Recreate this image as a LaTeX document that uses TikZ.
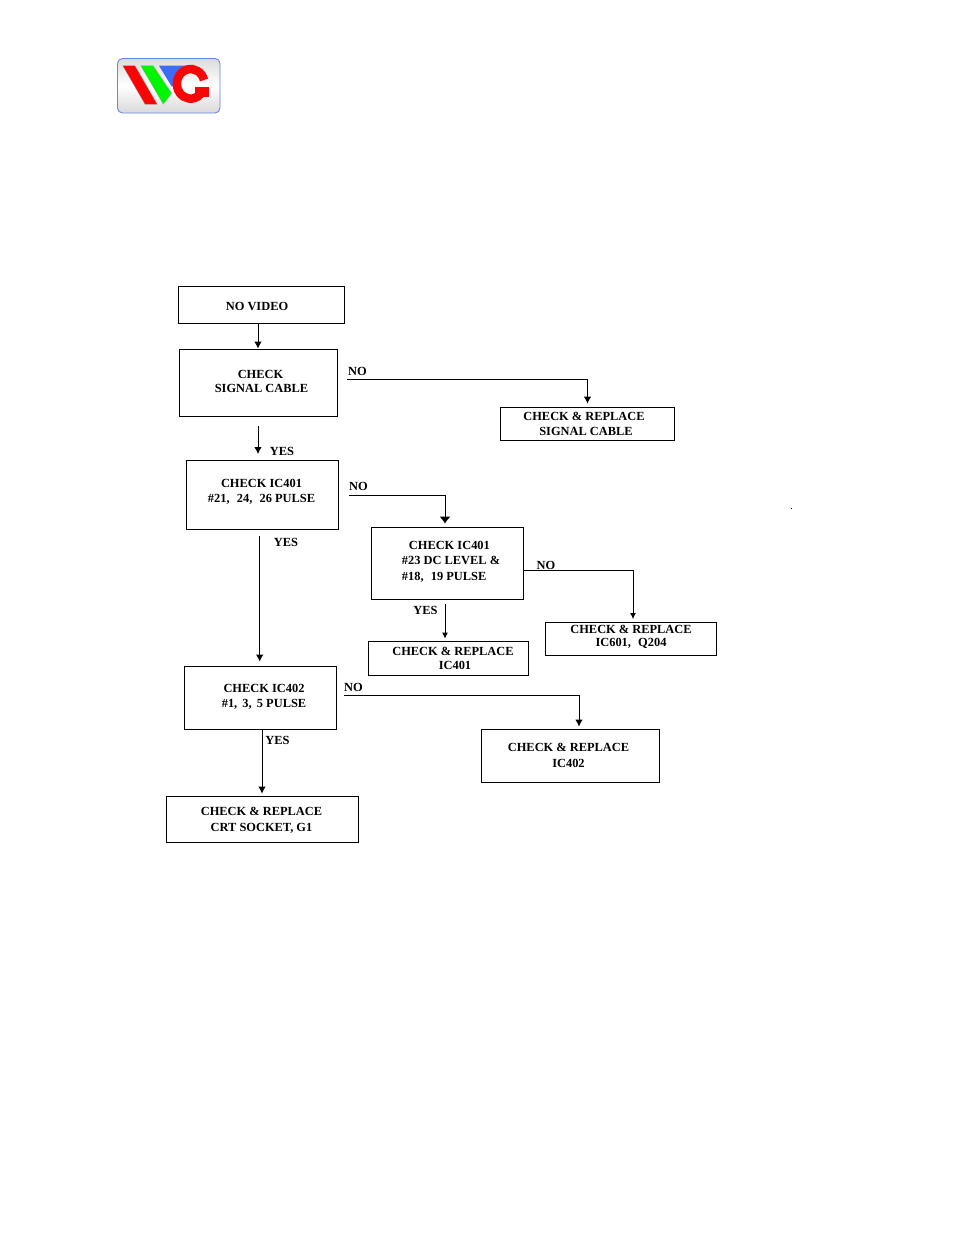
\documentclass[tikz,border=0pt]{standalone}
\usepackage{fontspec}
\setmainfont{Liberation Serif}
\usetikzlibrary{arrows.meta}
\definecolor{logored}{RGB}{250,5,5}
\definecolor{logogreen}{RGB}{0,245,0}
\definecolor{logoblue}{RGB}{60,110,245}
\definecolor{logoedge}{RGB}{100,135,235}
\tikzset{
  box/.style={draw, line width=0.9pt, inner sep=0pt},
  txt/.style={font=\fontsize{12.4}{15}\selectfont\bfseries, align=center, inner sep=0pt},
  flow/.style={line width=0.9pt, -{Latex[length=7pt,width=7.5pt]}},
  smallflow/.style={line width=0.9pt, -{Latex[length=6pt,width=6pt]}},
  bigflow/.style={line width=0.9pt, -{Latex[length=7pt,width=11pt]}}
}
\begin{document}
\begin{tikzpicture}[x=1pt,y=-1pt]
  \useasboundingbox (0,0) rectangle (954,1235);

  % logo
  \shade[top color=gray!28, bottom color=gray!30, middle color=white, rounded corners=5pt,
         draw=logoedge, line width=0.9pt] (117.5,58.5) rectangle (220,113);
  \filldraw[fill=logored, draw=gray!60, line width=0.3pt] (122.7,65.7) -- (135,65.7) -- (157.3,104.3) -- (145,104.3) -- cycle;
  \filldraw[fill=logogreen, draw=gray!60, line width=0.3pt] (140.7,65.7) -- (153.3,65.7) -- (171.7,93.3) -- (163.3,104.3) -- cycle;
  \fill[logoblue] (159,65.7) -- (186,65.7) -- (172,87) -- cycle;
  \draw[line width=8.5pt, logored] (204,80) arc (-15:-350:13.8 and 14.8);
  \fill[logored] (195,87) rectangle (209,97);
  \fill[white] (194,82.5) rectangle (210,87);

  % boxes
  \node[box, minimum width=166pt, minimum height=37pt] (v1) at (261,304.5) {};
  \node[box, minimum width=158pt, minimum height=67pt] (v2) at (258,382.5) {};
  \node[box, minimum width=174pt, minimum height=33pt] (v3) at (587,423.5) {};
  \node[box, minimum width=152pt, minimum height=69pt] (v4) at (262,495) {};
  \node[box, minimum width=152pt, minimum height=72pt] (v5) at (447,563) {};
  \node[box, minimum width=171pt, minimum height=33pt] (v6) at (630.5,639) {};
  \node[box, minimum width=160pt, minimum height=34pt] (v7) at (448.5,658) {};
  \node[box, minimum width=152pt, minimum height=63pt] (v8) at (260,697.5) {};
  \node[box, minimum width=178pt, minimum height=53pt] (v9) at (570.5,755.5) {};
  \node[box, minimum width=192pt, minimum height=46pt] (v10) at (262,819) {};

  % box texts
  \node[txt] (t1) at (257,306) {NO VIDEO};
  \node[txt] (t2) at (260.5,381) {CHECK\\[-1pt]\hspace*{2pt}SIGNAL CABLE};
  \node[txt] (t3) at (584,424) {CHECK \& REPLACE\\\hspace*{4pt}SIGNAL CABLE};
  \node[txt] (t4) at (261.5,491.5) {CHECK IC401\\\#21,\,\, 24,\,\, 26 PULSE};
  \node[txt, align=left] (t5) at (451,561.5) {\hspace*{7pt}CHECK IC401\\[0.5pt]\#23 DC LEVEL \&\\[0.5pt]\#18,\,\, 19 PULSE};
  \node[txt] (t6) at (631,637) {CHECK \& REPLACE\\[-2pt]IC601,\,\, Q204};
  \node[txt] (t7) at (453,658.5) {CHECK \& REPLACE\\[-1pt]\hspace*{4pt}IC401};
  \node[txt] (t8) at (264,696.5) {CHECK IC402\\\#1,\, 3,\, 5 PULSE};
  \node[txt] (t9) at (568.5,755.5) {CHECK \& REPLACE\\[1pt]IC402};
  \node[txt] (t10) at (261.5,820) {CHECK \& REPLACE\\[1pt]CRT SOCKET, G1};

  % free line ends
  \coordinate (a1) at (258,426);
  \coordinate (a2) at (258,454);
  \coordinate (a3) at (347,379);
  \coordinate (a4) at (349,495);
  \coordinate (a5) at (259.7,536);
  \coordinate (a6) at (445,604);
  \coordinate (a7) at (344,695);
  \coordinate (a8) at (262,730);

  % connectors
  \draw[flow] ([xshift=-3pt]v1.south) -- (v2.north);
  \draw[flow] (a1) -- (a2);
  \draw[flow] (a3) -| ([xshift=0.5pt,yshift=3pt]v3.north);
  \draw[bigflow] (a4) -| ([xshift=-2pt,yshift=3pt]v5.north);
  \draw[flow] (a5) -- ([xshift=-0.3pt,yshift=4pt]v8.north);
  \draw[smallflow] ([yshift=-7.5pt]v5.east) -| ([xshift=2.5pt,yshift=3pt]v6.north);
  \draw[smallflow] (a6) -- ([xshift=-3.5pt,yshift=2pt]v7.north);
  \draw[flow] (a7) -| ([xshift=8.5pt,yshift=2pt]v9.north);
  \draw[flow] (a8) -- ([yshift=2pt]v10.north);

  % branch labels
  \node[txt] (n1) at (357.5,371) {NO};
  \node[txt] (n2) at (358.5,486) {NO};
  \node[txt] (n3) at (546,565) {NO};
  \node[txt] (n4) at (353.5,687) {NO};
  \node[txt] (y1) at (282,451) {YES};
  \node[txt] (y2) at (286,542) {YES};
  \node[txt] (y3) at (425.5,610) {YES};
  \node[txt] (y4) at (277.5,740) {YES};

  % speck on the right
  \fill (791.5,508.5) circle (0.6pt);
\end{tikzpicture}
\end{document}
